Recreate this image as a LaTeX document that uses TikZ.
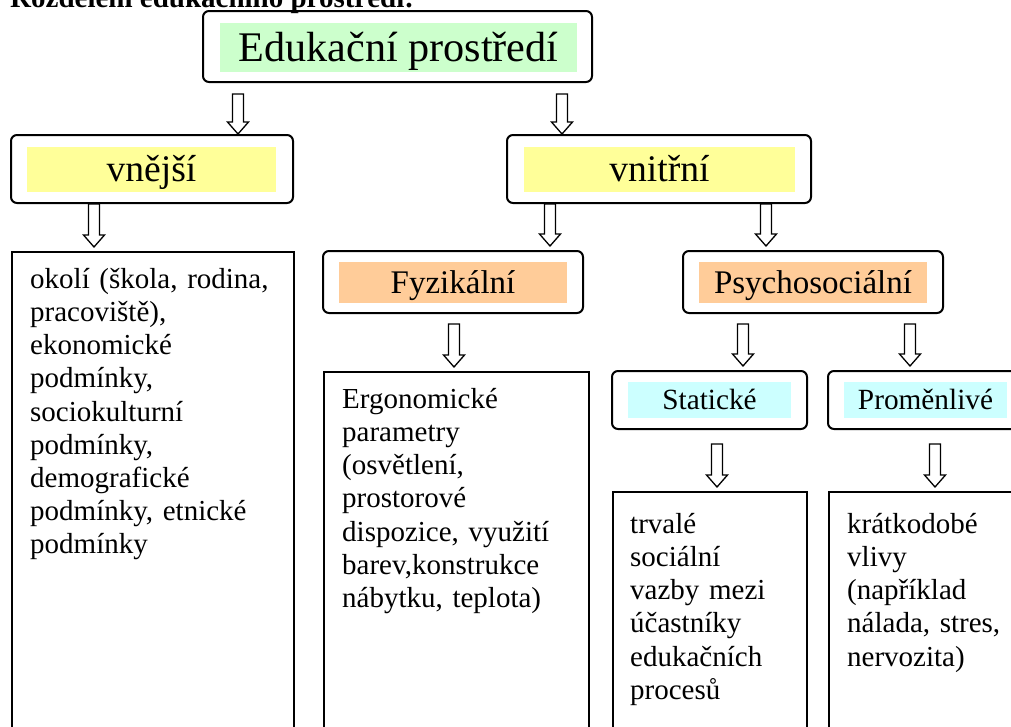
\documentclass[tikz,border=0pt]{standalone}
\usepackage{fontspec}
\setmainfont{Liberation Serif}
\usetikzlibrary{calc}
\definecolor{edugreen}{HTML}{CCFFCC}
\definecolor{eduyellow}{HTML}{FFFF99}
\definecolor{eduorange}{HTML}{FFCC99}
\definecolor{educyan}{HTML}{CCFFFF}
\tikzset{
	headbox/.style={draw, line width=2pt, rounded corners=6pt, inner sep=0pt},
	headfill/.style n args={3}{inner sep=0pt, font=\fontsize{#1}{#1}\selectfont, text height=#2pt, text depth=#3pt},
	bodybox/.style={draw, line width=1.8pt, inner sep=0pt, anchor=north west},
	bodytext/.style={anchor=north west, inner sep=0pt, align=left, text width=260pt, font=\fontsize{29}{33.2}\selectfont},
	blockarrow/.style={draw, line width=1.3pt, fill=white, line join=miter},
}
\newcommand\blockarrow[5]{% from, to, x, gap at start, gap at end
	\coordinate (ba-x) at (#3,0);
	\path (#1.south -| ba-x) ++(0,#4) coordinate (ba-s);
	\path (#2.north -| ba-x) ++(0,-#5) coordinate (ba-e);
	\draw[blockarrow] ($(ba-s)+(-5.5,0)$) -- ($(ba-e)+(-5.5,-12)$) -- ($(ba-e)+(-10.5,-12)$)
		-- (ba-e) -- ($(ba-e)+(10.5,-12)$) -- ($(ba-e)+(5.5,-12)$) -- ($(ba-s)+(5.5,0)$) -- cycle;
}

\begin{document}
\begin{tikzpicture}[x=1pt, y=-1pt]
		%%%%% FRAME %%%%%
		\clip (0,0) rectangle (1011,726);
		\node[anchor=base west, inner sep=0pt, font=\bfseries\fontsize{29}{33}\selectfont] (title) at (10,7) {Rozdělení edukačního prostředí:};
		
		%%%%% HEADINGS %%%%%
		\node[headbox, minimum width=389, minimum height=71] (top) at (397.5,46.5) {};
		\node[headfill={42.2}{37.98}{9.96}, fill=edugreen, minimum width=357, minimum height=49] (topt) at (398.5,47.5) {Edukační prostředí};
		
		\node[headbox, minimum width=282, minimum height=68] (vnejsi) at (152,169) {};
		\node[headfill={37.6}{33.84}{8.87}, fill=eduyellow, minimum width=249, minimum height=45] (vnejsit) at (151.5,169.5) {vnější};
		\node[headbox, minimum width=304, minimum height=68] (vnitrni) at (659,169) {};
		\node[headfill={37.6}{33.84}{8.87}, fill=eduyellow, minimum width=271, minimum height=45] (vnitrnit) at (659.5,169.5) {vnitřní};
		
		\node[headbox, minimum width=260, minimum height=62] (fyzik) at (453,282) {};
		\node[headfill={33}{29.7}{7.79}, fill=eduorange, minimum width=228, minimum height=41] (fyzikt) at (453,282.5) {Fyzikální};
		\node[headbox, minimum width=260, minimum height=62] (psycho) at (813,282) {};
		\node[headfill={33}{29.7}{7.79}, fill=eduorange, minimum width=228, minimum height=41] (psychot) at (813,282.5) {Psychosociální};
		
		\node[headbox, minimum width=195, minimum height=58] (staticke) at (709.5,400) {};
		\node[headfill={29.3}{26.37}{6.91}, fill=educyan, minimum width=163, minimum height=36] (staticket) at (709.5,400) {Statické};
		\node[headbox, minimum width=195, minimum height=58] (promenlive) at (925.5,400) {};
		\node[headfill={29.3}{26.37}{6.91}, fill=educyan, minimum width=163, minimum height=36] (promenlivet) at (925.5,400) {Proměnlivé};
		
		%%%%% CONTENT %%%%%
		\node[bodybox, minimum width=282, minimum height=500] (okoli) at (11,251) {};
		\node[bodytext] (okolit) at ($(okoli.north west)+(19,13.8)$) {\strut okolí (škola, rodina,\\ pracoviště),\\ ekonomické\\ podmínky,\\ sociokulturní\\ podmínky,\\ demografické\\ podmínky, etnické\\ podmínky};
		
		\node[bodybox, minimum width=265, minimum height=380] (ergo) at (323,371) {};
		\node[bodytext] (ergot) at ($(ergo.north west)+(19,13.8)$) {\strut Ergonomické\\ parametry\\ (osvětlení,\\ prostorové\\ dispozice, využití\\ barev,konstrukce\\ nábytku, teplota)};
		
		\node[bodybox, minimum width=194, minimum height=260] (trvale) at (612,491) {};
		\node[bodytext] (trvalet) at ($(trvale.north west)+(18,18.8)$) {\strut trvalé\\ sociální\\ vazby mezi\\ účastníky\\ edukačních\\ procesů};
		
		\node[bodybox, minimum width=195, minimum height=260] (kratko) at (828,491) {};
		\node[bodytext] (kratkot) at ($(kratko.north west)+(19,18.8)$) {\strut krátkodobé\\ vlivy\\ (například\\ nálada, stres,\\ nervozita)};
		
		%%%%% ARROWS %%%%%
		\blockarrow{top}{vnejsi}{238}{11}{0}
		\blockarrow{top}{vnitrni}{562}{11}{0}
		\blockarrow{vnejsi}{okoli}{94}{0}{4}
		\blockarrow{vnitrni}{fyzik}{550}{0}{4}
		\blockarrow{vnitrni}{psycho}{766}{0}{4}
		\blockarrow{fyzik}{ergo}{454}{10}{4}
		\blockarrow{psycho}{staticke}{743}{10}{4}
		\blockarrow{psycho}{promenlive}{910}{10}{4}
		\blockarrow{staticke}{trvale}{717}{14}{4}
		\blockarrow{promenlive}{kratko}{935}{14}{4}
		%%%%% END %%%%%
\end{tikzpicture}
\end{document}
